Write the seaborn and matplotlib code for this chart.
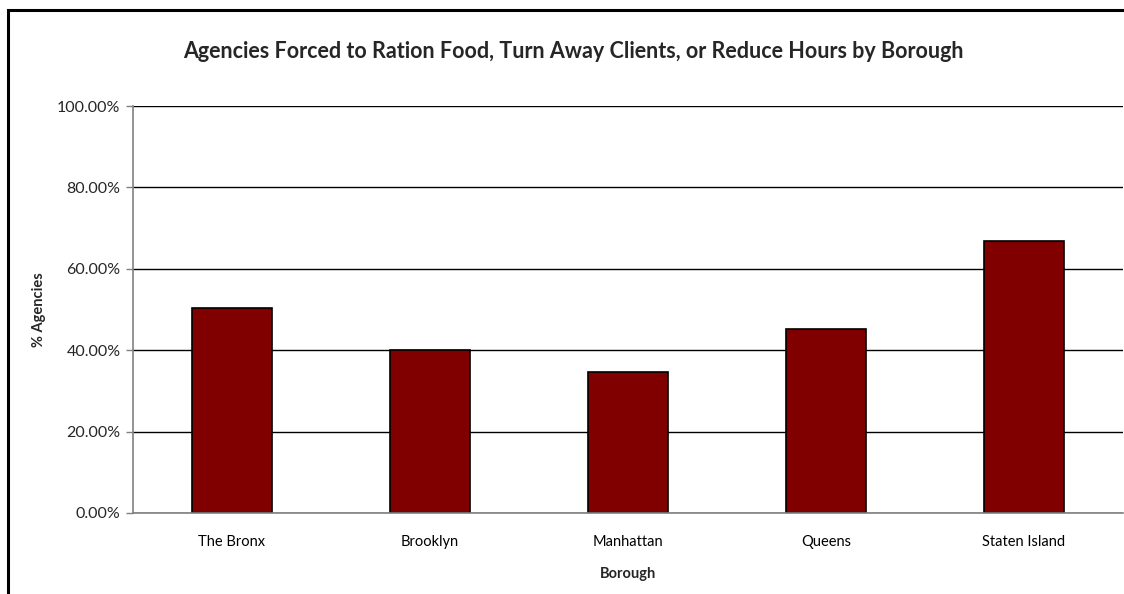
import matplotlib
matplotlib.use("Agg")
import matplotlib.pyplot as plt
import matplotlib.patches as mpatches
from matplotlib.ticker import FixedLocator, FuncFormatter
import seaborn as sns
import pandas as pd

# Data
boroughs = ["The Bronx", "Brooklyn", "Manhattan", "Queens", "Staten Island"]
pct_agencies = [50.4, 40.0, 34.7, 45.2, 66.9]
y_ticks = [0, 20, 40, 60, 80, 100]

df = pd.DataFrame({"Borough": boroughs, "Pct": pct_agencies})

sns.set_style("white")
plt.rcParams["font.family"] = ["Lato", "DejaVu Sans"]

fig = plt.figure(figsize=(11.24, 5.94), dpi=100)
ax = fig.add_axes([133 / 1124, 1 - 513 / 594, 990 / 1124, 407 / 594])

sns.barplot(data=df, x="Borough", y="Pct", color="#800000", saturation=1,
            edgecolor="black", linewidth=1.2, width=0.4, ax=ax)

ax.set_xlim(-0.5, 4.5)
ax.set_ylim(0, 100)
ax.set_yticks(y_ticks)
ax.yaxis.set_major_formatter(FuncFormatter(lambda v, _: f"{v:.2f}%"))
ax.yaxis.grid(True, color="black", linewidth=1)
ax.set_axisbelow(True)

# category labels without ticks, boundary ticks outward
ax.tick_params(axis="x", which="major", length=0, pad=16, labelsize=10.5, colors="black")
ax.xaxis.set_minor_locator(FixedLocator([i - 0.5 for i in range(len(boroughs) + 1)]))
ax.tick_params(axis="x", which="minor", length=5, width=1, color="#808080", direction="out")
ax.tick_params(axis="y", length=5, width=1, color="#808080", direction="out", left=True,
               labelsize=11.5, pad=4)

for side in ["top", "right"]:
    ax.spines[side].set_visible(False)
for side in ["left", "bottom"]:
    ax.spines[side].set_color("#808080")
    ax.spines[side].set_linewidth(1.2)

ax.set_xlabel("Borough", fontsize=10.5, fontweight="bold", labelpad=13)
ax.set_ylabel("% Agencies", fontsize=10.5, fontweight="bold", labelpad=8)

fig.text(573 / 1124, 1 - 52 / 594,
         "Agencies Forced to Ration Food, Turn Away Clients, or Reduce Hours by Borough",
         ha="center", va="center", fontsize=15.5, fontweight="bold")

# outer chart border (cut off at right and bottom like the reference)
fig.patches.append(mpatches.Rectangle((8 / 1124, -0.1), 1.2, 1 - 10 / 594 + 0.1,
                                      transform=fig.transFigure, fill=False,
                                      edgecolor="black", linewidth=2.2))

fig.savefig("out.png", dpi=100)
plt.close(fig)
